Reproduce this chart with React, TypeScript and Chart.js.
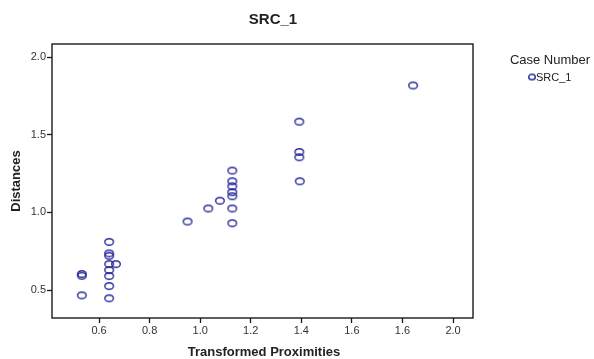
import React, { useEffect, useRef } from "react";
import { Chart, registerables } from "chart.js";

Chart.register(...registerables);

const chartTitle = "SRC_1";
const xAxisTitle = "Transformed Proximities";
const yAxisTitle = "Distances";
const legendTitle = "Case Number";
const seriesName = "SRC_1";

const xValues = [
  0.532, 0.532, 0.532,
  0.64, 0.64, 0.64, 0.64, 0.64, 0.64, 0.64, 0.64,
  0.667,
  0.95, 1.032, 1.078,
  1.127, 1.127, 1.127, 1.127, 1.127, 1.127, 1.127,
  1.392, 1.392, 1.392, 1.394,
  1.842,
];
const yValues = [
  0.603, 0.592, 0.466,
  0.81, 0.736, 0.72, 0.667, 0.629, 0.59, 0.526, 0.447,
  0.667,
  0.941, 1.025, 1.075,
  1.269, 1.2, 1.168, 1.13, 1.104, 1.025, 0.93,
  1.584, 1.389, 1.355, 1.2,
  1.817,
];

const xTickValues = [0.6, 0.8, 1.0, 1.2, 1.4, 1.6, 1.8, 2.0];
const xTickLabels = ["0.6", "0.8", "1.0", "1.2", "1.4", "1.6", "1.6", "2.0"];
const yTickValues = [0.5, 1.0, 1.5, 2.0];
const yTickLabels = ["0.5", "1.0", "1.5", "2.0"];

const MARK = "#2a2a9c";
const FONT = "'Liberation Sans', Arial, sans-serif";

function makeEllipse(w: number, h: number, lw: number) {
  const c = document.createElement("canvas");
  c.width = w + 2;
  c.height = h + 2;
  const ctx = c.getContext("2d")!;
  ctx.strokeStyle = MARK;
  ctx.lineWidth = lw;
  ctx.beginPath();
  ctx.ellipse(c.width / 2, c.height / 2, w / 2 - lw / 2, h / 2 - lw / 2, 0, 0, Math.PI * 2);
  ctx.stroke();
  return c;
}

export default function App() {
  const ref = useRef<HTMLCanvasElement | null>(null);

  useEffect(() => {
    if (!ref.current) return;
    const pointImg = makeEllipse(10, 8, 1.4);
    const legendImg = makeEllipse(8, 7, 1.4);

    const decor = {
      id: "decor",
      afterDraw(chart: any) {
        const ctx = chart.ctx as CanvasRenderingContext2D;
        const a = chart.chartArea;
        ctx.save();
        // frame
        ctx.strokeStyle = "#1a1a1a";
        ctx.lineWidth = 1.4;
        ctx.strokeRect(a.left, a.top, a.right - a.left, a.bottom - a.top);
        // title
        ctx.fillStyle = "#222";
        ctx.textAlign = "center";
        ctx.textBaseline = "middle";
        ctx.font = `bold 15px ${FONT}`;
        ctx.fillText(chartTitle, 273, 20);
        // x axis title
        ctx.font = `bold 13px ${FONT}`;
        ctx.fillText(xAxisTitle, 264, 352);
        // y axis title
        ctx.save();
        ctx.translate(16, 181);
        ctx.rotate(-Math.PI / 2);
        ctx.fillText(yAxisTitle, 0, 0);
        ctx.restore();
        // legend
        ctx.fillStyle = "#222";
        ctx.font = `13px ${FONT}`;
        ctx.fillText(legendTitle, 550, 60);
        ctx.drawImage(legendImg, 532 - legendImg.width / 2, 77 - legendImg.height / 2);
        ctx.textAlign = "left";
        ctx.font = `11px ${FONT}`;
        ctx.fillText(seriesName, 536, 77.5);
        ctx.restore();
      },
    };

    const chart = new Chart(ref.current, {
      type: "scatter",
      data: {
        datasets: [
          {
            label: seriesName,
            data: xValues.map((x, i) => ({ x, y: yValues[i] })),
            pointStyle: pointImg as any,
            pointRadius: 5,
          },
        ],
      },
      options: {
        animation: false,
        responsive: false,
        devicePixelRatio: 1,
        layout: { padding: { left: 0, top: 44, right: 121, bottom: 0 } },
        plugins: {
          legend: { display: false },
          title: { display: false },
          tooltip: { enabled: false },
        },
        scales: {
          x: {
            type: "linear",
            min: 0.414,
            max: 2.079,
            afterBuildTicks: (s: any) => {
              s.ticks = xTickValues.map((v) => ({ value: v }));
            },
            afterFit: (s: any) => {
              s.height = 41;
            },
            grid: {
              drawOnChartArea: false,
              drawTicks: true,
              tickLength: 5,
              tickColor: "#1a1a1a",
              tickWidth: 1.3,
            },
            border: { display: false },
            ticks: {
              padding: 1,
              color: "#333",
              font: { size: 11, family: FONT },
              maxRotation: 0,
              autoSkip: false,
              callback: (_v: any, i: number) => xTickLabels[i],
            },
          },
          y: {
            type: "linear",
            min: 0.32,
            max: 2.084,
            afterBuildTicks: (s: any) => {
              s.ticks = yTickValues.map((v) => ({ value: v }));
            },
            afterFit: (s: any) => {
              s.width = 52;
            },
            grid: {
              drawOnChartArea: false,
              drawTicks: true,
              tickLength: 5,
              tickColor: "#1a1a1a",
              tickWidth: 1.3,
            },
            border: { display: false },
            ticks: {
              padding: 1,
              color: "#333",
              font: { size: 11, family: FONT },
              autoSkip: false,
              callback: (_v: any, i: number) => yTickLabels[i],
            },
          },
        },
      },
      plugins: [decor],
    });
    return () => chart.destroy();
  }, []);

  return (
    <div style={{ position: "fixed", left: 0, top: 0, width: 594, height: 359, background: "#fff" }}>
      <canvas ref={ref} width={594} height={359} style={{ width: 594, height: 359 }} />
    </div>
  );
}
